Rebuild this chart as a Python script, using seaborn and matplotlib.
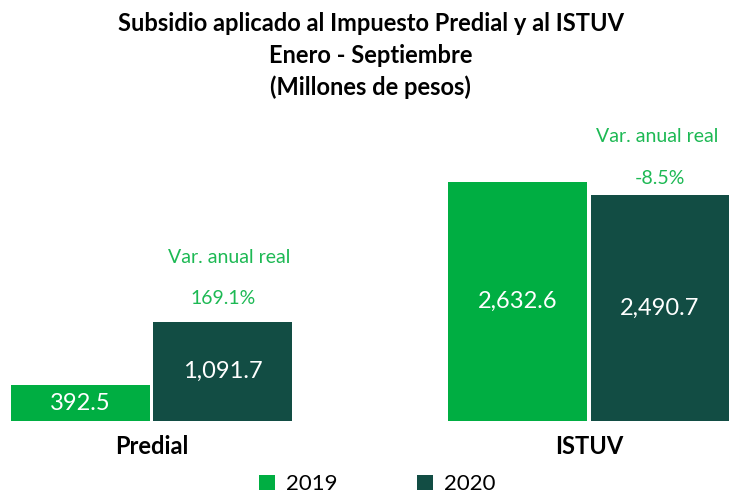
import matplotlib
matplotlib.use("Agg")
import matplotlib.pyplot as plt
import pandas as pd
import seaborn as sns

# data
categories = ["Predial", "ISTUV"]
years = ["2019", "2020"]
values_2019 = [392.5, 2632.6]
values_2020 = [1091.7, 2490.7]
variation = ["169.1%", "-8.5%"]

colors = {"2019": "#00AE42", "2020": "#124D44"}
light_green = "#1DB954"

df = pd.DataFrame({
    "categoria": categories * 2,
    "anio": [years[0]] * 2 + [years[1]] * 2,
    "valor": values_2019 + values_2020,
})

sns.set_style("white")
plt.rcParams["font.family"] = ["Lato", "DejaVu Sans"]
plt.rcParams["text.color"] = "black"

fig = plt.figure(figsize=(7.33, 4.94), dpi=100)
ax = fig.add_axes([0, 73 / 494, 1, 301 / 494])

sns.barplot(data=df, x="categoria", y="valor", hue="anio", palette=colors,
            width=0.65, gap=0.025, ax=ax, legend=True, saturation=1,
            edgecolor="none")

ax.set_xlim(-0.347, 1.33)
ax.set_ylim(0, 3315)
ax.axis("off")

# value labels inside bars
for container in ax.containers:
    for bar in container:
        h = bar.get_height()
        cx = bar.get_x() + bar.get_width() / 2
        ax.text(cx, h / 2, f"{h:,.1f}", ha="center", va="center",
                color="white", fontsize=17)

# annual variation annotations above the 2020 bars (offsets in points)
pct_offsets = [17, 12]
var_offsets = [(5, 46), (-2, 42)]
for i, (val, var) in enumerate(zip(values_2020, variation)):
    bar = ax.containers[1][i]
    cx = bar.get_x() + bar.get_width() / 2
    ax.annotate(var, (cx, val), xytext=(0, pct_offsets[i]), textcoords="offset points",
                ha="center", va="center", color=light_green, fontsize=14)
    ax.annotate("Var. anual real", (cx, val), xytext=var_offsets[i], textcoords="offset points",
                ha="center", va="center", color=light_green, fontsize=14)

# category labels
for i, cat in enumerate(categories):
    ax.annotate(cat, (i, 0), xytext=(0, -10), textcoords="offset points",
                ha="center", va="top", fontsize=17, fontweight="bold", color="black")

fig.text(0.506, 0.975, "Subsidio aplicado al Impuesto Predial y al ISTUV\nEnero - Septiembre\n(Millones de pesos)",
         ha="center", va="top", fontsize=17, fontweight="bold", linespacing=1.45, color="black")

handles, labels = ax.get_legend_handles_labels()
ax.get_legend().remove()
leg = fig.legend(handles, labels, loc="center", bbox_to_anchor=(0.515, 0.02), ncol=2, frameon=False,
                 fontsize=16, handlelength=0.7, handleheight=0.7, handletextpad=0.5, columnspacing=3.6)
for t in leg.get_texts():
    t.set_color("black")

fig.savefig("out.png", dpi=100)
